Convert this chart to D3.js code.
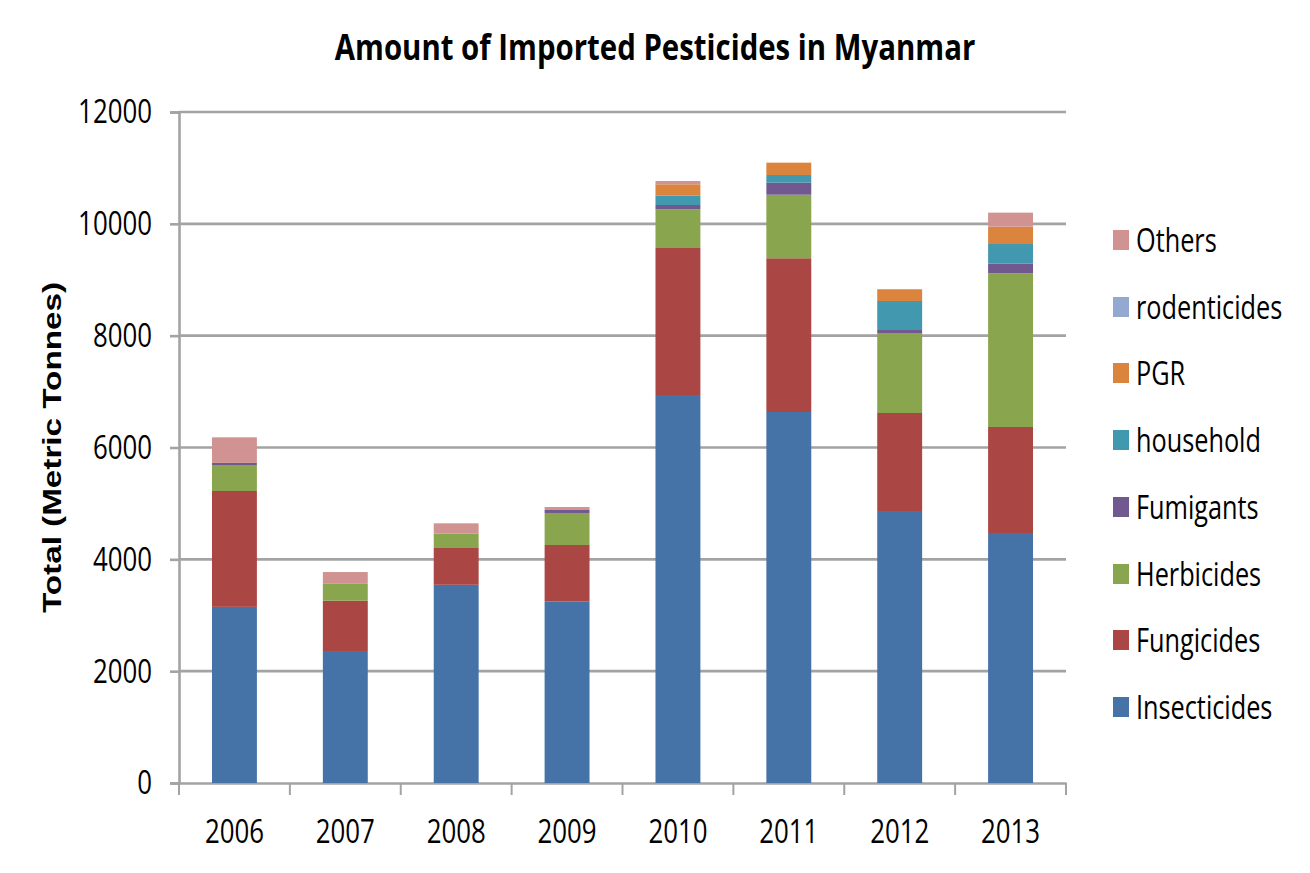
<!DOCTYPE html>
<html><head><meta charset="utf-8">
<script src="https://cdn.jsdelivr.net/npm/d3@7"></script>
<style>html,body{margin:0;background:#fff}svg{display:block}</style></head>
<body><div id="c"></div>
<script>
const years=["2006","2007","2008","2009","2010","2011","2012","2013"];
const seriesNames=["Insecticides","Fungicides","Herbicides","Fumigants","household","PGR","rodenticides","Others"];
const colors=["#4572a7","#aa4643","#89a54e","#71588f","#4198af","#db843d","#93a9cf","#d19392"];
const Insecticides=[3150,2360,3545,3249,6939,6635,4864,4471];
const Fungicides=[2072,900,658,1007,2641,2749,1753,1896];
const Herbicides=[465,311,255,573,680,1137,1431,2748];
const Fumigants=[38,0,0,53,77,215,53,172];
const household=[0,0,0,0,166,137,519,352];
const PGR=[0,0,0,0,204,221,210,310];
const rodenticides=[0,0,0,0,0,0,0,0];
const Others=[457,202,186,54,59,0,0,251];
const yTicks=[0,2000,4000,6000,8000,10000,12000];
const title="Amount of Imported Pesticides in Myanmar";
const yTitle="Total (Metric Tonnes)";
const seriesValues=[Insecticides,Fungicides,Herbicides,Fumigants,household,PGR,rodenticides,Others];

const W=1310,H=873,L=179,R=1066,T=112,B=783;
const FONT="'Open Sans','Noto Sans',sans-serif";
const svg=d3.select("#c").append("svg").attr("width",W).attr("height",H);
const x=d3.scaleBand().domain(years).range([L,R]).paddingInner(0.595).paddingOuter(0.2975);
const y=d3.scaleLinear().domain([0,12000]).range([B,T]);
const table=years.map((yr,i)=>{const o={year:yr};seriesNames.forEach((s,j)=>o[s]=seriesValues[j][i]);return o;});
const stacked=d3.stack().keys(seriesNames)(table);
const GRID="#a3a3a3";

// gridlines
svg.append("g").selectAll("line").data(yTicks.filter(d=>d>0)).join("line")
 .attr("x1",L).attr("x2",R).attr("y1",d=>y(d)).attr("y2",d=>y(d))
 .attr("stroke",GRID).attr("stroke-width",2.6);

// axes
function narrow(sel,sx,dy){sel.each(function(){
  const t=d3.select(this),ax=+t.attr("x")||0,ay=+t.attr("y")||0;
  t.attr("transform",`translate(${ax},${ay+dy}) scale(${sx},1)`).attr("x",0).attr("y",0);
});}
const yAxis=svg.append("g").attr("transform",`translate(${L},0)`)
 .call(d3.axisLeft(y).tickValues(yTicks).tickFormat(d3.format("d")).tickSize(9).tickPadding(18));
const xAxis=svg.append("g").attr("transform",`translate(0,${B})`)
 .call(d3.axisBottom(d3.scaleBand().domain(years).range([L,R])).tickSize(0).tickPadding(32));
// x ticks on category boundaries
svg.append("g").selectAll("line").data(d3.range(0,years.length+1)).join("line")
 .attr("x1",i=>L+i*x.step()).attr("x2",i=>L+i*x.step())
 .attr("y1",B).attr("y2",B+12).attr("stroke",GRID).attr("stroke-width",2);
[yAxis,xAxis].forEach(a=>{
  a.selectAll(".domain").attr("stroke",GRID).attr("stroke-width",2.6);
  a.selectAll(".tick line").attr("stroke",GRID).attr("stroke-width",2.6);
  a.selectAll("text").attr("font-family",FONT).attr("font-size",33.5).attr("fill","#000").attr("dy",null);
});
yAxis.selectAll("text").attr("dominant-baseline","central").call(narrow,0.772,-2);
xAxis.selectAll("text").attr("dominant-baseline","central").attr("y",47).call(narrow,0.772,0);

// bars
svg.append("g").selectAll("g").data(stacked).join("g").attr("fill",(d,i)=>colors[i])
 .selectAll("rect").data(d=>d.filter(v=>v[1]>v[0])).join("rect")
 .attr("x",d=>x(d.data.year)).attr("width",x.bandwidth())
 .attr("y",d=>y(d[1])).attr("height",d=>y(d[0])-y(d[1]));

// titles
svg.append("text").attr("transform",`translate(655,60) scale(0.84,1)`).attr("text-anchor","middle")
 .attr("font-family",FONT).attr("font-weight",700).attr("font-size",35).text(title);
svg.append("text").attr("transform",`translate(61,447.5) rotate(-90) scale(1.278,1)`).attr("text-anchor","middle")
 .attr("font-family","'Liberation Sans',Arial,sans-serif").attr("font-weight",700).attr("font-size",26).text(yTitle);

// legend
const legendY=[240,307,373,440,507,574,640,707];
const order=seriesNames.slice().reverse();
const leg=svg.append("g").selectAll("g").data(order).join("g")
 .attr("transform",(d,i)=>`translate(1113,${legendY[i]})`);
leg.append("rect").attr("y",-10).attr("width",16).attr("height",20)
 .attr("fill",d=>colors[seriesNames.indexOf(d)]);
leg.append("text").attr("transform","translate(23,0) scale(0.766,1)").attr("dominant-baseline","central")
 .attr("font-family",FONT).attr("font-size",33).attr("fill","#000").text(d=>d);
</script></body></html>
